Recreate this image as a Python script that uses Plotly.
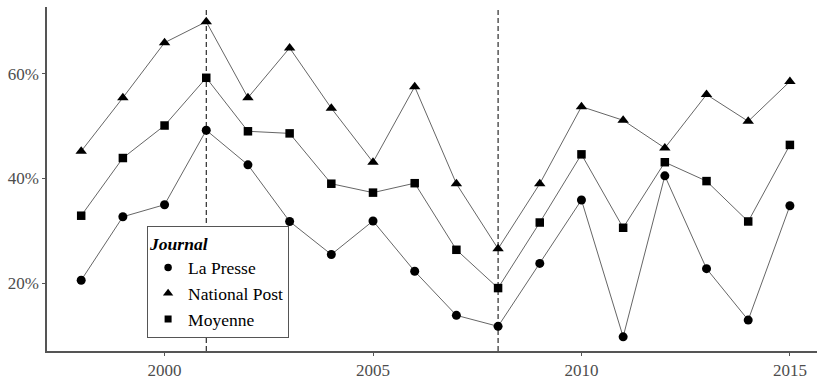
import plotly.graph_objects as go

years = list(range(1998, 2016))
la_presse = [20.6, 32.7, 35.0, 49.2, 42.6, 31.8, 25.5, 31.9, 22.3, 13.9, 11.8, 23.8, 35.9, 9.8, 40.5, 22.8, 13.0, 34.8]
national_post = [45.2, 55.4, 65.9, 69.9, 55.4, 64.9, 53.4, 43.1, 57.5, 39.0, 26.6, 39.0, 53.7, 51.1, 45.8, 56.0, 50.9, 58.5]
moyenne = [32.9, 43.9, 50.1, 59.2, 49.0, 48.6, 39.0, 37.3, 39.1, 26.4, 19.1, 31.6, 44.6, 30.6, 43.1, 39.5, 31.8, 46.4]
series_names = ["La Presse", "National Post", "Moyenne"]
symbols = ["circle", "triangle-up", "square"]
sizes = [9, 10, 8.5]
legend_sizes = [7.5, 9, 7]
vlines = [2001, 2008]
y_ticks = [20, 40, 60]
y_tick_labels = ["20%", "40%", "60%"]
x_ticks = [2000, 2005, 2010, 2015]
x_tick_labels = ["2000", "2005", "2010", "2015"]

FONT = "Liberation Serif"
fig = go.Figure()

for v in vlines:
    fig.add_vline(x=v, layer="below", line=dict(color="black", width=1, dash="5px,3px"))

for name, vals, sym, sz, lsz in zip(series_names, [la_presse, national_post, moyenne], symbols, sizes, legend_sizes):
    fig.add_trace(go.Scatter(
        x=years, y=vals, mode="lines+markers", name=name, showlegend=False,
        line=dict(color="#666666", width=1),
        marker=dict(symbol=sym, size=sz, color="black"),
    ))
    fig.add_trace(go.Scatter(
        x=[None], y=[None], mode="markers", name=name, showlegend=True,
        marker=dict(symbol=sym, size=lsz, color="black"),
    ))

fig.update_layout(
    width=817, height=380,
    margin=dict(l=47, r=0, t=7, b=27),
    plot_bgcolor="white", paper_bgcolor="white",
    font=dict(family=FONT, size=17, color="black"),
    showlegend=True,
    legend=dict(
        x=0.13, y=0.364, xanchor="left", yanchor="top",
        bordercolor="#555555", borderwidth=1, bgcolor="white",
        title=dict(text="<b><i>Journal</i></b>", font=dict(family=FONT, size=17.5, color="black")),
        font=dict(family=FONT, size=17.5, color="black"),
        itemsizing="trace", tracegroupgap=0,
    ),
    xaxis=dict(
        range=[1997.18, 2015.65], tickmode="array", tickvals=x_ticks, ticktext=x_tick_labels,
        showgrid=False, zeroline=False,
        showline=True, linecolor="#555555", linewidth=1.5,
        ticks="outside", ticklen=3, tickcolor="#555555",
        tickfont=dict(family=FONT, size=17, color="#4d4d4d"),
    ),
    yaxis=dict(
        range=[7.1, 72.7], tickmode="array", tickvals=y_ticks, ticktext=y_tick_labels,
        showgrid=False, zeroline=False,
        showline=True, linecolor="#555555", linewidth=1.5,
        ticks="outside", ticklen=3, tickcolor="#555555",
        tickfont=dict(family=FONT, size=17, color="#4d4d4d"),
    ),
)

fig.write_html("out.html", config={"displayModeBar": False},
               post_script="document.body.style.margin='0';")
